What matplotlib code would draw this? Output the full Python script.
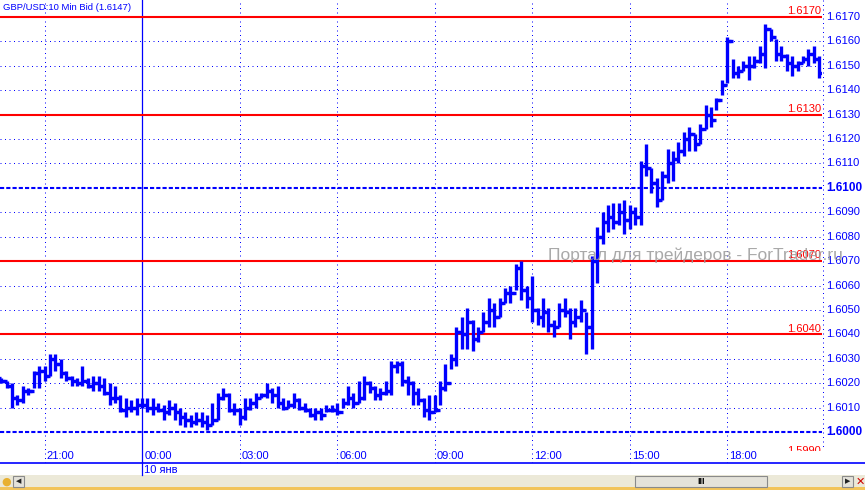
import numpy as np
import pandas as pd
import matplotlib
matplotlib.use('agg')
import matplotlib.pyplot as plt
from matplotlib.collections import LineCollection
from matplotlib.patches import Rectangle
from matplotlib.lines import Line2D
from matplotlib.transforms import Bbox, TransformedBbox, blended_transform_factory

plt.rc('font', family='Liberation Sans', size=8)

# GBP/USD 10 min bars (open = previous close)
first_open = 1.6022
highs = [1.6022, 1.6021, 1.6020, 1.6015, 1.6019, 1.6018, 1.6025, 1.6027, 1.6027, 1.6032,
         1.6032, 1.6030, 1.6025, 1.6023, 1.6022, 1.6027, 1.6022, 1.6023, 1.6023, 1.6022,
         1.6020, 1.6019, 1.6015, 1.6014, 1.6013, 1.6014, 1.6014, 1.6014, 1.6014, 1.6012,
         1.6011, 1.6013, 1.6012, 1.6010, 1.6008, 1.6007, 1.6008, 1.6008, 1.6007,
         1.6012, 1.6016, 1.6018, 1.6016, 1.6012, 1.6010, 1.6014, 1.6014, 1.6016, 1.6016,
         1.6020, 1.6018, 1.6019, 1.6014, 1.6013, 1.6016, 1.6014, 1.6012, 1.6010, 1.6010,
         1.6010, 1.6011, 1.6011, 1.6012, 1.6014, 1.6019, 1.6016, 1.6021, 1.6023, 1.6021,
         1.6019, 1.6018, 1.6021, 1.6029, 1.6029, 1.6029, 1.6023, 1.6021,
         1.6018, 1.6014, 1.6015, 1.6015, 1.6021, 1.6028, 1.6032, 1.6043, 1.6047, 1.6051,
         1.6046, 1.6043, 1.6049, 1.6055, 1.6053, 1.6055, 1.6059, 1.6060, 1.6069, 1.6070,
         1.6060, 1.6064, 1.6051, 1.6055, 1.6051, 1.6046, 1.6053, 1.6055, 1.6051, 1.6051,
         1.6054, 1.6049, 1.6072, 1.6084, 1.6090, 1.6093, 1.6094, 1.6094,
         1.6095, 1.6093, 1.6092, 1.6111, 1.6118, 1.6108, 1.6104, 1.6107, 1.6116, 1.6115,
         1.6119, 1.6123, 1.6125, 1.6122, 1.6126, 1.6134, 1.6133, 1.6137, 1.6144, 1.6162,
         1.6153, 1.6150, 1.6152, 1.6154, 1.6154, 1.6158, 1.6167, 1.6165, 1.6161, 1.6158,
         1.6155, 1.6154, 1.6152, 1.6154, 1.6157, 1.6158, 1.6154]
lows = [1.6020, 1.6018, 1.6010, 1.6011, 1.6012, 1.6015, 1.6018, 1.6018, 1.6021, 1.6023,
        1.6025, 1.6022, 1.6021, 1.6019, 1.6019, 1.6019, 1.6018, 1.6017, 1.6017, 1.6015,
        1.6011, 1.6012, 1.6008, 1.6006, 1.6008, 1.6007, 1.6010, 1.6008, 1.6007, 1.6008,
        1.6005, 1.6007, 1.6005, 1.6003, 1.6002, 1.6002, 1.6003, 1.6002, 1.6001,
        1.6003, 1.6005, 1.6013, 1.6008, 1.6007, 1.6003, 1.6005, 1.6009, 1.6010, 1.6014,
        1.6014, 1.6012, 1.6010, 1.6009, 1.6010, 1.6010, 1.6009, 1.6008, 1.6006, 1.6005,
        1.6005, 1.6008, 1.6008, 1.6007, 1.6010, 1.6011, 1.6010, 1.6012, 1.6013, 1.6016,
        1.6013, 1.6013, 1.6015, 1.6015, 1.6024, 1.6019, 1.6015, 1.6011,
        1.6011, 1.6006, 1.6005, 1.6008, 1.6011, 1.6017, 1.6026, 1.6027, 1.6034, 1.6034,
        1.6033, 1.6037, 1.6041, 1.6043, 1.6043, 1.6047, 1.6053, 1.6053, 1.6058, 1.6054,
        1.6051, 1.6045, 1.6044, 1.6043, 1.6041, 1.6039, 1.6043, 1.6047, 1.6038, 1.6043,
        1.6045, 1.6032, 1.6034, 1.6061, 1.6077, 1.6082, 1.6083, 1.6085,
        1.6081, 1.6083, 1.6085, 1.6085, 1.6105, 1.6098, 1.6092, 1.6095, 1.6102, 1.6103,
        1.6110, 1.6113, 1.6115, 1.6115, 1.6118, 1.6124, 1.6125, 1.6132, 1.6138, 1.6143,
        1.6145, 1.6145, 1.6148, 1.6144, 1.6149, 1.6151, 1.6149, 1.6160, 1.6152, 1.6152,
        1.6148, 1.6146, 1.6148, 1.6151, 1.6150, 1.6151, 1.6145]
closes = [1.6021, 1.6019, 1.6014, 1.6013, 1.6017, 1.6017, 1.6024, 1.6025, 1.6023, 1.6030,
          1.6028, 1.6024, 1.6022, 1.6021, 1.6020, 1.6021, 1.6019, 1.6020, 1.6019, 1.6016,
          1.6014, 1.6014, 1.6009, 1.6010, 1.6010, 1.6011, 1.6011, 1.6010, 1.6010, 1.6009,
          1.6008, 1.6010, 1.6008, 1.6006, 1.6005, 1.6004, 1.6005, 1.6004, 1.6003,
          1.6005, 1.6014, 1.6015, 1.6009, 1.6009, 1.6006, 1.6010, 1.6012, 1.6014, 1.6015,
          1.6017, 1.6015, 1.6012, 1.6010, 1.6011, 1.6013, 1.6010, 1.6009, 1.6007, 1.6008,
          1.6007, 1.6009, 1.6009, 1.6008, 1.6012, 1.6014, 1.6012, 1.6014, 1.6020, 1.6018,
          1.6015, 1.6016, 1.6017, 1.6027, 1.6028, 1.6021, 1.6020, 1.6016,
          1.6013, 1.6009, 1.6008, 1.6009, 1.6018, 1.6020, 1.6030, 1.6041, 1.6040, 1.6045,
          1.6038, 1.6041, 1.6045, 1.6050, 1.6047, 1.6053, 1.6057, 1.6057, 1.6067, 1.6058,
          1.6055, 1.6050, 1.6047, 1.6049, 1.6044, 1.6043, 1.6050, 1.6049, 1.6045, 1.6047,
          1.6050, 1.6043, 1.6070, 1.6080, 1.6086, 1.6088, 1.6086, 1.6090,
          1.6087, 1.6090, 1.6088, 1.6109, 1.6108, 1.6102, 1.6095, 1.6105, 1.6110, 1.6112,
          1.6115, 1.6120, 1.6122, 1.6118, 1.6124, 1.6130, 1.6128, 1.6136, 1.6142, 1.6160,
          1.6147, 1.6148, 1.6150, 1.6150, 1.6152, 1.6155, 1.6165, 1.6162, 1.6155, 1.6154,
          1.6151, 1.6150, 1.6151, 1.6153, 1.6155, 1.6153, 1.6147]

red_levels = [1.6170, 1.6130, 1.6070, 1.6040, 1.5990]
dash_levels = [1.6000, 1.6100]
grid_levels = [1.6010, 1.6020, 1.6030, 1.6040, 1.6050, 1.6060, 1.6070, 1.6080,
               1.6090, 1.6110, 1.6120, 1.6130, 1.6140, 1.6150, 1.6160, 1.6170]
right_labels = ['1.6170', '1.6160', '1.6150', '1.6140', '1.6130', '1.6120', '1.6110',
                '1.6100', '1.6090', '1.6080', '1.6070', '1.6060', '1.6050', '1.6040',
                '1.6030', '1.6020', '1.6010', '1.6000']
hour_labels = ['21:00', '00:00', '03:00', '06:00', '09:00', '12:00', '15:00', '18:00']

times = pd.date_range('2011-01-09 19:40', periods=len(closes), freq='10min')
hour_times = pd.to_datetime(['2011-01-09 21:00', '2011-01-10 00:00', '2011-01-10 03:00',
                             '2011-01-10 06:00', '2011-01-10 09:00', '2011-01-10 12:00',
                             '2011-01-10 15:00', '2011-01-10 18:00'])
step = pd.Timedelta('10min')
xb = np.asarray((times - times[0]) / step, dtype=float)
xh = np.asarray((hour_times - times[0]) / step, dtype=float)
opens = [first_open] + closes[:-1]

BLUE = '#0000FF'
RED = '#FF0000'
W, H = 865, 490
fig = plt.figure(figsize=(W / 100, H / 100), dpi=100)
fig.patch.set_facecolor('white')

def fy(py):
    return 1 - py / H

ax = fig.add_axes([0, fy(463), 822 / W, 463 / H])
ax.set_xlim(-0.22, 151.5)
ax.set_ylim(1.5987305, 1.6176964)
ax.axis('off')

# grid
for lv in grid_levels:
    ax.axhline(lv, color=BLUE, lw=0.72, dashes=(1, 3.5), zorder=1)
for lv in dash_levels:
    ax.axhline(lv, color=BLUE, lw=1.5, dashes=(2, 1), zorder=1)
for x, lab in zip(xh, hour_labels):
    if lab == '00:00':
        ax.axvline(x, color=BLUE, lw=0.9, zorder=1)
    else:
        ax.axvline(x, color=BLUE, lw=0.72, dashes=(1, 3.5), zorder=1)
    ax.text(x + 0.42, 0.015, lab, color=BLUE, fontsize=8, va='center', ha='left',
            transform=blended_transform_factory(ax.transData, ax.transAxes))

# red levels
for lv in red_levels[:-1]:
    ax.axhline(lv, color=RED, lw=1.5, zorder=2)
clip = TransformedBbox(Bbox([[0, fy(450.5)], [1, 1]]), fig.transFigure)
for lv in red_levels:
    t = ax.text(151.3, lv + 0.00003, '%.4f' % lv, color=RED, fontsize=8,
                ha='right', va='bottom', zorder=3)
    t.set_clip_on(True)
    t.set_clip_box(clip)

# OHLC bars
verts = [[(x, l), (x, h)] for x, l, h in zip(xb, lows, highs)]
ticks = [[(x - 0.62, o), (x, o)] for x, o in zip(xb, opens)]
ticks += [[(x, c), (x + 0.62, c)] for x, c in zip(xb, closes)]
ax.add_collection(LineCollection(verts, colors=BLUE, linewidths=2.4, capstyle='butt', zorder=4))
ax.add_collection(LineCollection(ticks, colors=BLUE, linewidths=2.4, capstyle='butt', zorder=4))

ax.text(0.004, 1 - 8 / 463, 'GBP/USD:10 Min Bid (1.6147)', color=BLUE, fontsize=6.8,
        transform=ax.transAxes, va='center', ha='left')

# watermark
fig.text(548 / W, fy(255), 'Портал для трейдеров - ForTrader.ru', color='#9a9a9a',
         alpha=0.85, fontsize=12.5, va='center', ha='left', zorder=10)

# right price scale
fig.add_artist(Line2D([822.5 / W] * 2, [fy(0), fy(450)], color=BLUE, lw=0.72, dashes=(1, 3.5)))
for lab in right_labels:
    v = float(lab)
    yfrac = ax.transAxes.inverted().transform(ax.transData.transform((0, v)))[1]
    bold = lab in ('1.6100', '1.6000')
    ax.text(826 / 822, yfrac, lab, color=BLUE, fontsize=8.5 if bold else 8,
            fontweight='bold' if bold else 'normal', va='center', ha='left',
            transform=ax.transAxes, clip_on=False)

# bottom axis and date
fig.add_artist(Line2D([0, 1], [fy(462.5)] * 2, color=BLUE, lw=1.2))
x00 = ax.transData.transform((xh[1], 0))[0] / W
fig.add_artist(Line2D([x00, x00], [fy(462), fy(475)], color=BLUE, lw=0.9))
fig.text(x00 + 2 / W, fy(469.5), '10 янв', color=BLUE, fontsize=8, va='center', ha='left')

# scrollbar strip
fig.add_artist(Rectangle((0, fy(487)), 1, 12 / H, transform=fig.transFigure,
                         facecolor='#ECE9D8', edgecolor='none'))
fig.add_artist(Rectangle((0, 0), 1, 3 / H, transform=fig.transFigure,
                         facecolor='#F2C45A', edgecolor='none'))
fig.add_artist(Rectangle((635 / W, fy(487)), 132 / W, 11 / H, transform=fig.transFigure,
                         facecolor='#E4E2DA', edgecolor='#8a8a8a', lw=0.8))
fig.text(701 / W, fy(481.5), 'III', fontsize=6.5, fontweight='bold', ha='center', va='center')
fig.add_artist(Rectangle((13 / W, fy(487)), 11 / W, 11 / H, transform=fig.transFigure,
                         facecolor='#E4E2DA', edgecolor='#8a8a8a', lw=0.8))
fig.text(18.5 / W, fy(481.5), '◀', fontsize=5, ha='center', va='center', color='#222222',
         family=['DejaVu Sans'])
fig.add_artist(Rectangle((842 / W, fy(487)), 11 / W, 11 / H, transform=fig.transFigure,
                         facecolor='#E4E2DA', edgecolor='#8a8a8a', lw=0.8))
fig.text(847.5 / W, fy(481.5), '▶', fontsize=5, ha='center', va='center', color='#222222',
         family=['DejaVu Sans'])
fig.text(6 / W, fy(481.5), '●', fontsize=8, ha='center', va='center', color='#E8B030',
         family=['DejaVu Sans'])
fig.text(860 / W, fy(481.5), '✕', fontsize=8, ha='center', va='center', color='#CC0000',
         family=['DejaVu Sans'])

fig.savefig('out.png', dpi=100)
